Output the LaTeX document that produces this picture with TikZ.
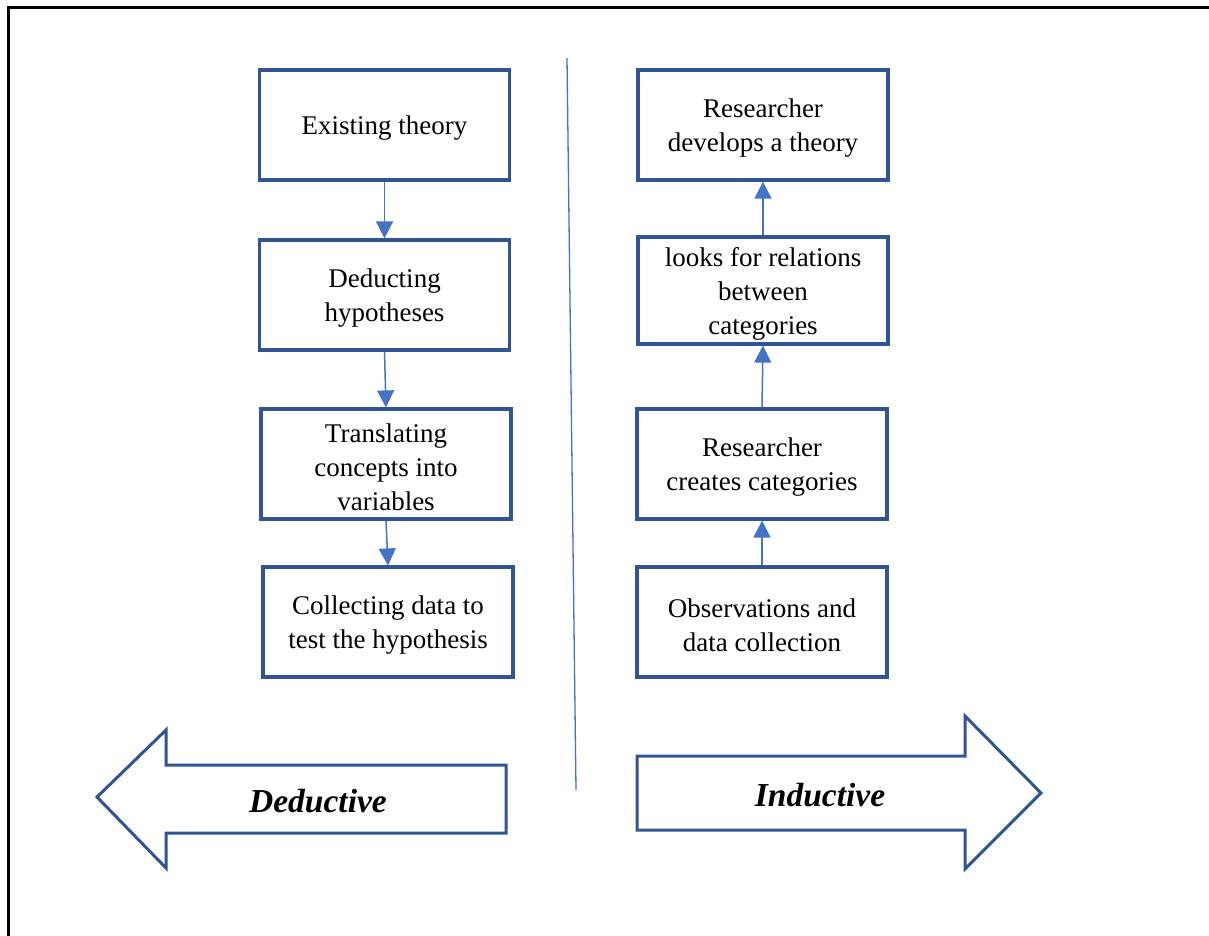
\documentclass[tikz,border=0pt]{standalone}
\usepackage{fontspec}
\setmainfont{Liberation Serif}
\usetikzlibrary{arrows.meta}
\definecolor{boxblue}{RGB}{47,85,151}
\definecolor{linkblue}{RGB}{68,114,196}
\begin{document}
\begin{tikzpicture}[x=1pt,y=-1pt,
  stepbox/.style={draw=boxblue, line width=3.2pt, fill=white,
    minimum width=250pt, minimum height=110pt, inner sep=0pt},
  steptext/.style={align=center, inner sep=0pt, yshift=-3pt,
    font=\fontsize{27}{34}\selectfont},
  link/.style={draw=linkblue, line width=1.5pt,
    -{Triangle[length=17pt,width=17pt]}},
  bigarrow/.style={draw=boxblue, line width=3pt, line join=miter, fill=white},
  arrowlabel/.style={font=\fontsize{33.5}{38}\selectfont\bfseries\itshape}]
\useasboundingbox (0,0) rectangle (1209,935);
% page frame (only its top and left edges fall inside the page)
\draw[line width=2.5pt] (8.5,940) -- (8.5,7.5) -- (1215,7.5);

% separator between the two approaches
\draw[linkblue, line width=1.3pt] (567,58) -- (576,790);

% deductive column
\node[stepbox] (d1) at (384.5,125) {};
\node[steptext] (d1t) at (d1.center) {Existing theory};
\node[stepbox] (d2) at (384.5,295) {};
\node[steptext] (d2t) at (d2.center) {Deducting\\hypotheses};
\node[stepbox] (d3) at (386,464) {};
\node[steptext] (d3t) at (d3.center) {Translating\\concepts into\\variables};
\node[stepbox] (d4) at (388,622) {};
\node[steptext] (d4t) at (d4.center) {Collecting data to\\test the hypothesis};
\draw[link] (d1.south) -- (d2.north);
\draw[link] (d2.south) -- (d3.north);
\draw[link] (d3.south) -- (d4.north);

% inductive column
\node[stepbox] (i1) at (763,125) {};
\node[steptext] (i1t) at (i1.center) {Researcher\\develops a theory};
\node[stepbox, minimum height=107pt] (i2) at (763,290.5) {};
\node[steptext] (i2t) at (i2.center) {looks for relations\\between\\categories};
\node[stepbox] (i3) at (762,464) {};
\node[steptext] (i3t) at (i3.center) {Researcher\\creates categories};
\node[stepbox] (i4) at (762,622) {};
\node[steptext] (i4t) at (i4.center) {Observations and\\data collection};
\draw[link] (i4.north) -- (i3.south);
\draw[link] (i3.north) -- (i2.south);
\draw[link] (i2.north) -- (i1.south);

% direction arrows
\draw[bigarrow] (97,797) -- (166,730) -- (166,765) -- (506,765) -- (506,833)
  -- (166,833) -- (166,868) -- cycle;
\node[arrowlabel] (ded) at (318,801) {Deductive};
\draw[bigarrow] (1041,793) -- (965,716) -- (965,756) -- (637,756) -- (637,830)
  -- (965,830) -- (965,869) -- cycle;
\node[arrowlabel] (ind) at (820,795) {Inductive};
\end{tikzpicture}
\end{document}
